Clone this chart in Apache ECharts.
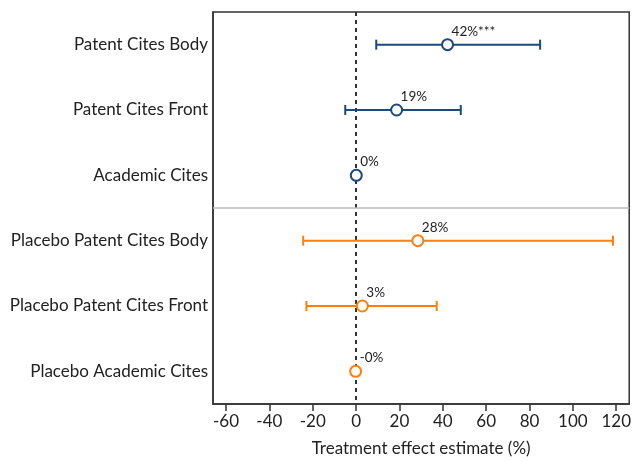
<!DOCTYPE html>
<html>
<head>
<meta charset="utf-8">
<script src="https://cdn.jsdelivr.net/npm/echarts@6/dist/echarts.min.js"></script>
<style>
  html, body { margin: 0; padding: 0; background: #fff; }
  #chart { width: 634px; height: 462px; }
</style>
</head>
<body>
<div id="chart"></div>
<script>
// Dữ liệu của biểu đồ
const categories = [
    "Patent Cites Body",
    "Patent Cites Front",
    "Academic Cites",
    "Placebo Patent Cites Body",
    "Placebo Patent Cites Front",
    "Placebo Academic Cites"
];
const estimates = [42.2, 18.7, 0.1, 28.5, 2.9, -0.2];
const ciLow = [9.3, -5.0, -0.3, -24.4, -22.9, -0.4];
const ciHigh = [84.9, 48.3, 0.5, 118.5, 37.2, 0.2];
const pointLabels = ["42%***", "19%", "0%", "28%", "3%", "-0%"];
const groups = ["main", "main", "main", "placebo", "placebo", "placebo"];
const xTicks = [-60, -40, -20, 0, 20, 40, 60, 80, 100, 120];
const separatorAfter = 3; // ranh giới giữa nhóm chính và nhóm placebo

const colors = { main: "#1b4b7c", placebo: "#ff7f0e" };
const fontFamily = "Lato, 'Open Sans', sans-serif";

// Dữ liệu cho điểm và khoảng tin cậy
const pointData = estimates.map((v, i) => ({
    value: [v, i],
    itemStyle: { borderColor: colors[groups[i]] }
}));
const ciData = estimates.map((v, i) => [ciLow[i], ciHigh[i], i, groups[i] === "main" ? 0 : 1]);

const chart = echarts.init(document.getElementById("chart"));
chart.setOption({
    animation: false,
    grid: {
        left: 213, right: 1, top: 12, bottom: 56,
        show: true,
        borderColor: "#333",
        borderWidth: 1.5
    },
    xAxis: {
        type: "value",
        min: -66,
        max: 126,
        name: "Treatment effect estimate (%)",
        nameLocation: "middle",
        nameGap: 36,
        nameTextStyle: { fontFamily, fontSize: 17, color: "#222" },
        axisLine: { show: true, onZero: false, lineStyle: { color: "#333", width: 1.5 } },
        axisTick: { show: true, length: 7, customValues: xTicks, lineStyle: { color: "#333", width: 1.5 } },
        axisLabel: { customValues: xTicks, fontFamily, fontSize: 17, color: "#222", margin: 9 },
        splitLine: { show: false }
    },
    yAxis: [
        {
            type: "category",
            data: categories,
            inverse: true,
            axisLine: { show: true, onZero: false, lineStyle: { color: "#333", width: 1.5 } },
            axisTick: { show: false },
            axisLabel: { fontFamily, fontSize: 17, color: "#222", margin: 5 },
            splitLine: { show: false }
        },
        {
            // Trục phụ ẩn, dùng để vẽ đường phân cách giữa hai nhóm
            type: "value",
            show: false,
            inverse: true,
            min: 0,
            max: categories.length,
            splitLine: { show: false }
        }
    ],
    series: [
        {
            // Thanh sai số (khoảng tin cậy)
            type: "custom",
            z: 2,
            data: ciData,
            encode: { x: [0, 1], y: 2 },
            renderItem: function (params, api) {
                const lo = api.coord([api.value(0), api.value(2)]);
                const hi = api.coord([api.value(1), api.value(2)]);
                const color = api.value(3) === 0 ? colors.main : colors.placebo;
                const cap = 5;
                const style = { stroke: color, lineWidth: 2 };
                return {
                    type: "group",
                    children: [
                        { type: "line", shape: { x1: lo[0], y1: lo[1], x2: hi[0], y2: hi[1] }, style },
                        { type: "line", shape: { x1: lo[0], y1: lo[1] - cap, x2: lo[0], y2: lo[1] + cap }, style },
                        { type: "line", shape: { x1: hi[0], y1: hi[1] - cap, x2: hi[0], y2: hi[1] + cap }, style }
                    ]
                };
            }
        },
        {
            // Điểm ước lượng
            type: "scatter",
            z: 3,
            symbol: "circle",
            symbolSize: 11,
            itemStyle: { color: "#fff", borderWidth: 2, opacity: 1 },
            data: pointData,
            label: {
                show: true,
                position: "top",
                align: "left",
                distance: 0,
                offset: [4, 0],
                fontFamily,
                fontSize: 13.5,
                color: "#222",
                formatter: (p) => pointLabels[p.dataIndex]
            },
            markLine: {
                silent: true,
                z: 1,
                symbol: "none",
                label: { show: false },
                lineStyle: { color: "#333", type: [4, 4], width: 2 },
                data: [{ xAxis: 0 }]
            }
        },
        {
            // Đường phân cách (trên trục phụ)
            type: "scatter",
            yAxisIndex: 1,
            data: [],
            markLine: {
                silent: true,
                z: 1,
                symbol: "none",
                label: { show: false },
                lineStyle: { color: "#bbb", type: "solid", width: 1.5 },
                data: [{ yAxis: separatorAfter }]
            }
        }
    ]
});
</script>
</body>
</html>
